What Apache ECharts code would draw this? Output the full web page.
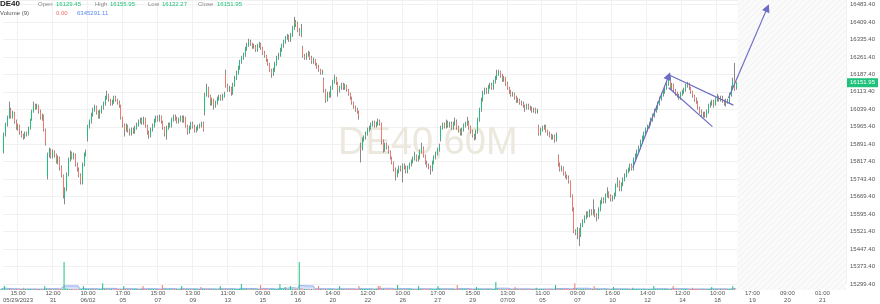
<!DOCTYPE html>
<html><head><meta charset="utf-8">
<script src="https://cdn.jsdelivr.net/npm/echarts@6/dist/echarts.min.js"></script>
<style>html,body{margin:0;padding:0;background:#fff}#c{width:880px;height:304px}</style>
</head><body><div id="c"></div>
<script>
const opens = [
15860,15932,15974,16004,16038,16008,16025,15987,15962,15970,
15941,15928,15920,15936,15932,15962,15996,16029,16055,16046,
16055,16029,16004,16013,15953,15755,15848,15869,15839,15860,
15848,15818,15835,15793,15759,15666,15700,15763,15827,15856,
15835,15848,15806,15785,15759,15730,15806,15848,15920,15966,
15987,16017,16038,16051,16025,16008,16029,16046,16063,16089,
16101,16080,16063,16072,16089,16080,16067,16055,16004,15970,
15953,15970,15949,15936,15953,15945,15962,15974,15987,15996,
15983,16000,15970,15941,15928,15953,15970,15991,16004,15996,
16008,15987,15962,15936,15962,15974,15970,15996,16008,16000,
15987,15996,16004,15991,16004,15970,15945,15962,15979,15966,
15949,15958,15966,15970,15979,16029,16101,16131,16097,16063,
16080,16055,16067,16084,16093,16084,16097,16186,16139,16122,
16131,16110,16143,16173,16194,16215,16241,16258,16270,16296,
16312,16325,16317,16304,16308,16291,16308,16317,16300,16279,
16266,16249,16232,16207,16190,16207,16232,16258,16270,16291,
16308,16325,16342,16350,16334,16355,16384,16410,16401,16376,
16359,16300,16266,16258,16270,16279,16258,16241,16249,16232,
16219,16207,16194,16164,16122,16080,16105,16097,16131,16156,
16173,16152,16122,16131,16143,16131,16139,16122,16105,16089,
16067,16051,16038,16029,15877,15873,15911,15920,15936,15953,
15962,15974,15983,15970,15979,15987,15979,15903,15869,15890,
15877,15860,15835,15814,15785,15759,15776,15793,15785,15801,
15793,15776,15793,15806,15818,15831,15844,15827,15835,15860,
15877,15844,15814,15801,15793,15785,15814,15835,15852,15869,
15911,15962,15974,15966,15983,15970,15979,15962,15979,15987,
15962,15949,15936,15953,15970,15979,15987,15962,15945,15928,
15920,15945,15996,16038,16080,16110,16122,16114,16135,16143,
16131,16156,16173,16190,16198,16181,16164,16173,16148,16131,
16114,16101,16105,16089,16076,16080,16067,16063,16055,16046,
16055,16046,16042,16034,16038,16029,15966,15936,15953,15962,
15966,15949,15936,15928,15920,15924,15911,15839,15806,15785,
15793,15768,15755,15751,15734,15675,15616,15523,15515,15531,
15506,15548,15565,15582,15599,15590,15607,15599,15607,15590,
15582,15616,15645,15658,15649,15675,15687,15670,15658,15666,
15679,15717,15734,15700,15721,15742,15759,15776,15785,15801,
15789,15827,15844,15860,15877,15903,15920,15936,15953,15966,
15979,15996,16013,16034,16046,16063,16084,16101,16114,16131,
16148,16164,16131,16143,16122,16105,16097,16089,16105,16114,
16122,16139,16148,16131,16114,16097,16080,16072,16046,16029,
16017,16021,16013,16029,16055,16063,16072,16063,16080,16093,
16080,16089,16076,16063,16076,16072,16101,16131,16164,16129.45
];
const closes = [
15932,15974,16004,16038,16008,16025,15987,15962,15970,15941,
15928,15920,15936,15932,15962,15996,16029,16055,16046,16055,
16029,16004,16013,15953,15898,15848,15869,15839,15860,15848,
15818,15835,15793,15759,15675,15700,15763,15827,15856,15835,
15848,15806,15785,15759,15730,15806,15848,15860,15966,15987,
16017,16038,16051,16025,16008,16029,16046,16063,16089,16101,
16080,16063,16072,16089,16080,16067,16055,16004,15970,15953,
15970,15949,15936,15953,15945,15962,15974,15987,15996,15983,
16000,15970,15941,15928,15953,15970,15991,16004,15996,16008,
15987,15962,15936,15962,15974,15970,15996,16008,16000,15987,
15996,16004,15991,16004,15970,15945,15962,15979,15966,15949,
15958,15966,15970,15979,15953,16101,16131,16097,16063,16080,
16055,16067,16084,16093,16084,16097,16105,16139,16122,16131,
16110,16143,16173,16194,16215,16241,16258,16270,16296,16312,
16325,16317,16304,16308,16291,16308,16317,16300,16279,16266,
16249,16232,16207,16190,16207,16232,16258,16270,16291,16308,
16325,16342,16350,16334,16355,16384,16410,16401,16376,16359,
16376,16266,16258,16270,16279,16258,16241,16249,16232,16219,
16207,16194,16198,16122,16080,16105,16097,16131,16156,16173,
16152,16122,16131,16143,16131,16139,16122,16105,16089,16067,
16051,16038,16029,16013,15873,15911,15920,15936,15953,15962,
15974,15983,15970,15979,15987,15979,15903,15869,15890,15877,
15860,15835,15814,15785,15759,15776,15793,15785,15801,15793,
15776,15793,15806,15818,15831,15844,15827,15835,15860,15877,
15844,15814,15801,15793,15785,15814,15835,15852,15869,15886,
15962,15974,15966,15983,15970,15979,15962,15979,15987,15962,
15949,15936,15953,15970,15979,15987,15962,15945,15928,15920,
15945,15996,16038,16080,16110,16122,16114,16135,16143,16131,
16156,16173,16190,16198,16181,16164,16173,16148,16131,16114,
16101,16105,16089,16076,16080,16067,16063,16055,16046,16055,
16046,16042,16034,16038,16029,16034,15936,15953,15962,15966,
15949,15936,15928,15920,15924,15911,15932,15806,15785,15793,
15768,15755,15751,15734,15675,15616,15523,15515,15531,15506,
15548,15565,15582,15599,15590,15607,15599,15607,15590,15582,
15616,15645,15658,15649,15675,15687,15670,15658,15666,15679,
15717,15734,15700,15721,15742,15759,15776,15785,15801,15789,
15827,15844,15860,15877,15903,15920,15936,15953,15966,15979,
15996,16013,16034,16046,16063,16084,16101,16114,16131,16148,
16164,16131,16143,16122,16105,16097,16089,16105,16114,16122,
16139,16148,16131,16114,16097,16080,16072,16046,16029,16017,
16021,16013,16029,16055,16063,16072,16063,16080,16093,16080,
16089,16076,16063,16076,16072,16101,16131,16164,16126,16151.95
];
const lows = [
15852,15924,15966,16000,16000,16000,15979,15953,15949,15932,
15920,15911,15915,15924,15928,15953,15991,16025,16038,16038,
16021,15996,15991,15945,15886,15742,15835,15831,15831,15835,
15810,15806,15780,15751,15662,15637,15692,15755,15818,15827,
15827,15797,15776,15751,15721,15721,15797,15839,15903,15958,
15979,16008,16029,16017,16000,16000,16021,16038,16055,16080,
16072,16055,16055,16063,16072,16059,16046,15996,15962,15924,
15945,15941,15928,15928,15936,15936,15953,15966,15979,15974,
15974,15962,15932,15915,15920,15945,15962,15983,15987,15987,
15979,15953,15924,15911,15953,15962,15962,15987,15991,15979,
15979,15987,15983,15983,15962,15932,15936,15953,15958,15941,
15941,15949,15958,15962,15945,16013,16093,16089,16055,16055,
16038,16046,16059,16076,16076,16076,16089,16131,16114,16114,
16097,16101,16135,16164,16186,16207,16232,16249,16262,16287,
16304,16308,16296,16296,16283,16283,16300,16291,16270,16258,
16241,16224,16198,16173,16181,16198,16224,16249,16262,16283,
16300,16317,16334,16325,16325,16346,16376,16388,16367,16350,
16346,16258,16249,16249,16262,16249,16232,16232,16224,16211,
16198,16186,16186,16110,16067,16072,16089,16089,16122,16148,
16143,16093,16110,16122,16122,16122,16114,16097,16080,16059,
16042,16029,16021,15996,15814,15865,15903,15911,15928,15945,
15953,15966,15962,15962,15970,15970,15890,15856,15860,15869,
15852,15827,15806,15776,15738,15751,15768,15776,15730,15785,
15768,15768,15785,15797,15810,15822,15818,15818,15827,15852,
15835,15806,15793,15785,15763,15776,15806,15827,15844,15860,
15903,15953,15958,15958,15962,15962,15953,15953,15970,15953,
15941,15928,15928,15945,15962,15970,15953,15936,15920,15907,
15911,15936,15987,16029,16072,16101,16105,16105,16126,16122,
16122,16148,16164,16181,16173,16156,16156,16139,16122,16105,
16093,16093,16080,16067,16067,16059,16055,16046,16029,16038,
16038,16034,16025,16025,16021,16021,15928,15928,15945,15953,
15941,15928,15920,15911,15911,15898,15903,15797,15776,15776,
15759,15747,15742,15725,15666,15607,15515,15506,15489,15460,
15498,15540,15557,15574,15582,15582,15590,15590,15582,15565,
15574,15607,15637,15641,15641,15666,15662,15649,15649,15658,
15670,15709,15692,15692,15713,15734,15751,15768,15776,15780,
15780,15818,15835,15852,15869,15894,15911,15928,15945,15958,
15970,15987,16004,16025,16038,16055,16076,16093,16105,16122,
16139,16122,16122,16114,16097,16089,16080,16080,16097,16105,
16114,16131,16122,16105,16089,16072,16063,16038,16021,16008,
16004,16004,16004,16021,16046,16055,16046,16055,16072,16072,
16072,16067,16055,16051,16063,16063,16093,16122,16118,16122.27
];
const highs = [
15941,15983,16013,16072,16046,16034,16029,15996,15979,15974,
15949,15936,15945,15945,15966,16000,16038,16072,16063,16063,
16059,16038,16021,16017,15958,15856,15877,15873,15869,15865,
15852,15844,15839,15801,15763,15709,15772,15835,15865,15860,
15856,15852,15814,15793,15768,15814,15856,15869,15974,15996,
16025,16046,16059,16055,16034,16038,16055,16072,16097,16118,
16105,16084,16080,16097,16097,16084,16076,16059,16008,15979,
15979,15974,15958,15962,15962,15970,15983,15996,16004,16004,
16008,16004,15974,15949,15962,15979,16000,16013,16013,16017,
16013,15991,15966,15970,15983,15983,16004,16017,16017,16008,
16004,16013,16013,16013,16008,15974,15970,15987,15987,15974,
15966,15974,15979,15987,15987,16110,16148,16135,16101,16089,
16084,16076,16093,16101,16101,16105,16114,16207,16148,16139,
16135,16152,16181,16203,16224,16249,16266,16279,16304,16321,
16338,16334,16321,16317,16312,16317,16325,16321,16304,16287,
16270,16253,16236,16211,16215,16241,16266,16279,16300,16317,
16334,16350,16359,16355,16363,16393,16431,16418,16410,16384,
16401,16308,16274,16279,16287,16283,16266,16258,16253,16236,
16228,16211,16207,16173,16126,16114,16114,16139,16164,16186,
16177,16156,16139,16152,16152,16148,16143,16126,16110,16093,
16072,16055,16046,16034,15898,15920,15928,15945,15962,15970,
15983,15991,15991,15987,16000,15996,15983,15911,15898,15898,
15886,15865,15839,15818,15793,15785,15801,15801,15810,15810,
15801,15801,15814,15827,15839,15860,15848,15844,15869,15898,
15882,15848,15822,15810,15801,15822,15844,15860,15877,15894,
15970,15983,15983,15996,15991,15987,15987,15987,16004,15996,
15970,15958,15962,15979,15987,16008,15991,15970,15953,15936,
15953,16004,16046,16089,16118,16131,16131,16143,16152,16152,
16164,16181,16207,16207,16203,16190,16181,16177,16156,16135,
16122,16114,16110,16097,16089,16084,16076,16072,16059,16063,
16063,16055,16051,16046,16046,16042,15974,15962,15970,15974,
15974,15953,15945,15936,15932,15932,15941,15848,15814,15801,
15797,15776,15763,15759,15738,15679,15624,15531,15540,15536,
15557,15574,15590,15607,15607,15616,15616,15658,15616,15599,
15624,15654,15666,15666,15683,15709,15692,15679,15675,15687,
15725,15751,15738,15730,15751,15768,15785,15793,15810,15810,
15835,15852,15869,15886,15911,15928,15945,15962,15974,15987,
16004,16021,16042,16055,16072,16093,16110,16122,16139,16156,
16181,16177,16152,16148,16126,16114,16105,16114,16122,16131,
16148,16156,16152,16135,16118,16101,16089,16076,16051,16038,
16029,16029,16038,16063,16072,16080,16080,16089,16105,16097,
16097,16097,16080,16084,16084,16110,16139,16173,16236,16155.95
];
// volume in millions
const volumesM = [
3.1,2.8,13,3.4,2.6,3.0,2.9,3.3,2.5,3.0,
2.7,3.2,2.9,7,3.1,2.6,3.4,3.0,2.8,2.5,
3.1,2.9,3.3,2.7,3.6,13,3.8,3.2,2.9,3.4,
3.0,2.8,3.5,3.1,4.0,3.6,90,5.2,4.1,3.3,
3.0,2.9,3.2,3.5,3.0,2.8,3.1,13,3.9,3.4,
3.0,2.7,3.2,2.9,3.1,2.6,3.3,3.0,22,4.0,
3.4,3.1,2.8,3.0,2.7,3.2,2.9,3.5,3.3,3.0,
13,3.6,3.0,2.8,3.1,2.6,3.0,2.9,3.2,2.7,
3.0,13,3.4,3.1,2.9,3.2,2.8,3.0,2.6,3.1,
2.9,3.3,16,3.5,3.0,2.8,3.1,2.7,3.0,2.9,
3.2,2.8,3.0,13,3.3,3.1,2.9,3.0,2.7,3.2,
2.9,3.1,2.8,3.0,10,4.2,3.6,3.1,3.0,2.9,
3.2,2.8,3.0,2.7,3.1,13,3.8,3.4,3.0,2.9,
3.2,3.0,2.8,3.1,2.9,3.3,3.0,19,3.6,3.2,
3.0,2.8,3.1,2.9,3.2,2.7,3.0,2.8,16,3.5,
3.1,3.0,2.8,3.2,2.9,3.1,2.7,3.0,3.3,19,
4.0,3.5,10,3.6,3.2,13,3.8,3.4,3.1,3.0,
90,5.5,4.2,3.6,3.3,3.0,2.9,3.1,2.8,3.0,
3.2,13,3.6,3.1,2.9,3.0,2.7,3.2,2.9,3.0,
2.8,3.1,3.0,13,3.4,3.0,2.8,3.1,2.9,3.0,
2.7,3.2,2.9,3.0,13,3.8,3.3,3.0,2.9,3.1,
2.8,3.0,2.7,3.1,2.9,13,13,3.6,3.2,3.0,
2.9,3.1,2.8,3.0,3.2,2.9,16,3.5,3.1,2.9,
3.0,2.8,3.1,2.9,3.2,2.7,3.0,2.8,13,3.4,
3.1,3.0,2.8,3.2,2.9,3.1,2.7,3.0,2.9,13,
3.8,3.3,3.0,2.9,3.1,2.8,3.0,2.7,3.2,2.9,
16,3.5,3.1,3.0,2.8,3.2,2.9,3.1,2.7,3.0,
2.9,10,3.6,3.2,3.0,2.8,3.1,2.9,3.0,2.7,
3.2,2.9,26,4.2,3.5,3.1,3.0,2.8,3.2,2.9,
3.0,2.7,3.1,10,3.4,3.0,2.8,3.1,2.9,3.0,
2.7,3.2,2.9,3.0,2.8,7,3.6,3.2,3.0,2.9,
3.1,2.8,3.0,2.7,3.2,2.9,16,3.8,3.3,3.1,
3.0,2.9,3.2,3.0,3.4,3.6,4.0,22,4.5,3.9,
3.4,3.1,3.0,2.9,3.2,2.8,3.0,3.1,13,3.5,
3.1,3.0,2.8,3.2,2.9,3.1,2.7,3.0,2.9,10,
3.6,3.2,3.0,2.9,3.1,2.8,3.0,2.7,3.2,2.9,
7,3.4,3.1,3.0,2.8,3.2,2.9,3.1,2.7,3.0,
2.9,3.2,13,3.6,3.2,3.0,2.8,3.1,2.9,3.0,
3.3,3.1,2.9,13,3.5,3.1,3.0,2.8,3.2,2.9,
3.0,2.8,3.1,2.9,7,3.4,3.1,3.0,2.8,3.2,
2.9,3.1,2.7,3.0,2.9,10,3.5,3.1,3.0,2.8,
3.2,2.9,3.1,2.8,3.0,3.3,3.6,13,5.2,0
];
const tickTimes = ['15:00','12:00','10:00','17:00','15:00','13:00','11:00','09:00','16:00','14:00','12:00','10:00','17:00','15:00','13:00','11:00','09:00','16:00','14:00','12:00','10:00','17:00','09:00','01:00'];
const tickDates = ['05/29/2023','31','06/02','05','07','09','13','15','16','20','22','26','27','29','07/03','05','07','10','12','14','18','19','20','21'];
// drawn trend lines: [start [bar, price], end [bar, price], end symbol]
const trendLines = [
  [[359.6, 15793], [380.1, 16181], 'triangle'],
  [[380.1, 16186], [417.1, 16057], 'none'],
  [[380.1, 16131], [405.1, 15966], 'none'],
  [[414.3, 16087], [436.5, 16469], 'triangle']
];
const symbolName = 'DE40';
const watermarkText = 'DE40,60M';
const volumeHeader = ['Volume (9)', '0.00', '6345291.11'];

const N = closes.length;
const futureSlots = 62;
const totalSlots = N + futureSlots;
const firstTick = 8, tickStep = 20;
const cats = Array.from({length: totalSlots}, (_, i) => String(i));
const isTick = (i) => i >= firstTick && (i - firstTick) % tickStep === 0;

const GREEN = '#1fc27a', RED = '#f47a6e', WICK = '#8a8a8a', LINEC = '#6c6cc6';
const FONT = '"Liberation Sans", Arial, sans-serif';

const wickData = opens.map((o, i) => [o, closes[i], lows[i], highs[i]]);
const bodyData = opens.map((o, i) => [o, closes[i], Math.min(o, closes[i]), Math.max(o, closes[i])]);
const volData = volumesM.map((v, i) => ({value: v, itemStyle: {color: closes[i] >= opens[i] ? GREEN : RED}}));
const maVol = volumesM.map((v, i) => { const s = Math.max(0, i - 8); let sum = 0; for (let j = s; j <= i; j++) sum += volumesM[j]; return sum / (i - s + 1); });

const pc = document.createElement('canvas'); pc.width = 6; pc.height = 6;
const g = pc.getContext('2d'); g.fillStyle = '#fafafa'; g.fillRect(0, 0, 6, 6);
g.strokeStyle = '#f1f1f1'; g.lineWidth = 1; g.beginPath(); g.moveTo(0, 6); g.lineTo(6, 0); g.stroke();
const hatch = {image: pc, repeat: 'repeat'};

const last = N - 1;
const hdr = (x, t, color, size, bold) => ({type: 'text', left: x, top: size > 7 ? 0 : 1, z: 10, silent: true,
  style: {text: t, fill: color, font: (bold ? 'bold ' : '') + size + 'px ' + FONT}});

const chart = echarts.init(document.getElementById('c'), null, {renderer: 'canvas'});
chart.setOption({
  animation: false,
  backgroundColor: '#ffffff',
  grid: [
    {left: 0, right: 34, top: 0, bottom: 19},
    {left: 0, right: 34, top: 250, bottom: 14}
  ],
  xAxis: [
    {type: 'category', gridIndex: 0, data: cats, boundaryGap: true,
     axisLine: {show: false}, axisTick: {show: false},
     axisLabel: {interval: (i) => isTick(i), formatter: (v, i) => { const k = (i - firstTick) / tickStep; return tickTimes[k] + '\n' + tickDates[k]; },
       fontSize: 6, lineHeight: 7, color: '#555', margin: 6, fontFamily: FONT},
     splitLine: {show: true, interval: (i) => isTick(i), lineStyle: {color: '#f1f1f1', width: 1}}},
    {type: 'category', gridIndex: 1, data: cats, boundaryGap: true, show: false},
    {type: 'value', gridIndex: 0, min: -0.5, max: totalSlots - 0.5, show: false},
    {type: 'value', gridIndex: 1, min: -0.5, max: totalSlots - 0.5, show: false}
  ],
  yAxis: [
    {type: 'value', gridIndex: 0, position: 'right', min: 15299.4, max: 16502.4, interval: 74,
     axisLine: {show: false}, axisTick: {show: false},
     axisLabel: {fontSize: 6, color: '#555', margin: 4, showMaxLabel: false, fontFamily: FONT, formatter: (v) => v.toFixed(2)},
     splitLine: {show: true, lineStyle: {color: '#f1f1f1', width: 1}}},
    {type: 'value', gridIndex: 1, min: 0, max: 128, show: false, splitLine: {show: false}}
  ],
  graphic: [
    {type: 'text', left: 338, top: 125, z: 1, silent: true, style: {text: watermarkText, fill: '#ece8dd', font: '38px ' + FONT}},
    hdr(0, symbolName, '#222', 8, true),
    hdr(38, 'Open', '#888', 6), hdr(56, opens[last].toFixed(2), GREEN, 6),
    hdr(95, 'High', '#888', 6), hdr(110, highs[last].toFixed(2), GREEN, 6),
    hdr(148, 'Low', '#888', 6), hdr(162, lows[last].toFixed(2), GREEN, 6),
    {type: 'text', left: 198, top: 1, z: 10, silent: true, style: {text: 'Close', fill: '#888', font: '6px ' + FONT}},
    hdr(217, closes[last].toFixed(2), GREEN, 6),
    {type: 'text', left: 0, top: 10, z: 10, silent: true, style: {text: volumeHeader[0], fill: '#555', font: '6px ' + FONT}},
    {type: 'text', left: 56, top: 10, z: 10, silent: true, style: {text: volumeHeader[1], fill: '#f26b6b', font: '6px ' + FONT}},
    {type: 'text', left: 77, top: 10, z: 10, silent: true, style: {text: volumeHeader[2], fill: '#5a8cec', font: '6px ' + FONT}}
  ],
  series: [
    {type: 'line', xAxisIndex: 3, yAxisIndex: 1, data: [[-10, -10]], showSymbol: false, silent: true,
     lineStyle: {opacity: 0}, z: 1,
     markArea: {silent: true, itemStyle: {color: hatch}, data: [[{xAxis: N - 0.5}, {xAxis: totalSlots - 0.5}]]}},
    {type: 'line', xAxisIndex: 2, yAxisIndex: 0, data: [[-10, 15000]], showSymbol: false, silent: true,
     lineStyle: {opacity: 0}, z: 1,
     markArea: {silent: true, itemStyle: {color: hatch}, data: [[{xAxis: N - 0.5}, {xAxis: totalSlots - 0.5}]]}},
    {type: 'bar', xAxisIndex: 1, yAxisIndex: 1, data: volData, barWidth: 1, silent: true, z: 3},
    {type: 'line', xAxisIndex: 1, yAxisIndex: 1, data: maVol, showSymbol: false, silent: true, z: 2,
     lineStyle: {color: '#7f9fea', width: 0.8}, areaStyle: {color: 'rgba(120,155,235,0.45)'}},
    {type: 'candlestick', xAxisIndex: 0, yAxisIndex: 0, data: wickData, barWidth: 1, silent: true, z: 3,
     itemStyle: {color: WICK, color0: WICK, borderColor: WICK, borderColor0: WICK, borderWidth: 1}},
    {type: 'candlestick', xAxisIndex: 0, yAxisIndex: 0, data: bodyData, barWidth: 1, silent: true, z: 4,
     itemStyle: {color: GREEN, color0: RED, borderColor: GREEN, borderColor0: RED, borderWidth: 1},
     markLine: {silent: true, animation: false, symbol: ['none', 'none'],
       lineStyle: {color: 'rgba(0,0,0,0)', width: 0, type: 'solid'},
       data: [{yAxis: closes[last]}],
       label: {show: true, position: 'end', formatter: closes[last].toFixed(2), color: '#ffffff', backgroundColor: GREEN,
         fontSize: 6, fontFamily: FONT, padding: [2, 3, 1, 3], distance: 1}}},
    {type: 'line', xAxisIndex: 2, yAxisIndex: 0, data: [[-10, 15000]], showSymbol: false, silent: true,
     lineStyle: {opacity: 0}, z: 6,
     markLine: {silent: true, animation: false, symbolSize: 8, label: {show: false},
       lineStyle: {color: LINEC, width: 1.2, type: 'solid'},
       data: trendLines.map(t => [{coord: t[0], symbol: 'none'}, {coord: t[1], symbol: t[2]}])}}
  ]
});
</script>
</body></html>
